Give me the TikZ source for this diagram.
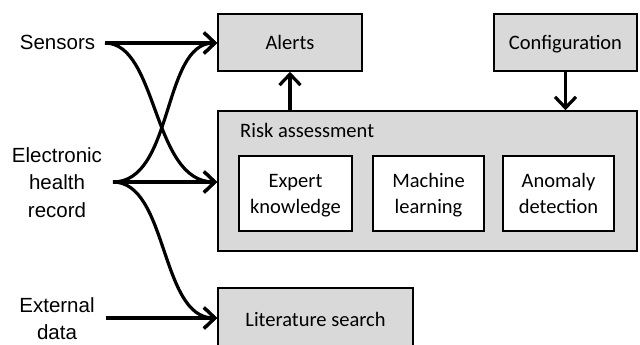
\documentclass[tikz,border=0pt]{standalone}
\usepackage{fontspec}
\setmainfont{Carlito}
\newfontfamily\arialf{Liberation Sans}
\usetikzlibrary{arrows.meta}
\definecolor{boxgray}{HTML}{D9D9D9}
\newcommand{\topr}[1]{\rule{0pt}{#1pt}}
\newcommand{\botr}[1]{\rule[-#1pt]{0pt}{#1pt}}
\tikzset{
  graybox/.style={draw=black, line width=1.6pt, fill=boxgray, inner sep=0pt, font=\fontsize{20.5}{26}\selectfont, align=center},
  whitebox/.style={draw=black, line width=1.6pt, fill=white, inner sep=0pt, font=\fontsize{20.5}{26}\selectfont, align=center},
  srclabel/.style={font=\arialf\fontsize{20.5}{27.5}\selectfont, align=center, inner sep=0pt},
  flow/.style={line width=3.2pt, -{Straight Barb[length=11pt, width=21pt, line width=3.2pt]}}
}
\begin{document}
\begin{tikzpicture}[x=1pt,y=-1pt]
\clip (0,0) rectangle (640,345);
\fill[white] (0,0) rectangle (640,345);
% boxes
\node[graybox, minimum width=144pt, minimum height=57pt] (alerts) at (290,42.5) {\topr{20}Alerts\botr{5}};
\node[graybox, minimum width=143pt, minimum height=57pt] (config) at (565.5,42.5) {\topr{20}Configuration\botr{5}};
\node[graybox, minimum width=419pt, minimum height=140pt] (risk) at (427.5,181) {};
\node[font=\fontsize{20.5}{26}\selectfont, anchor=base west, inner sep=0pt] (risklbl) at (240,137) {Risk assessment};
\node[whitebox, minimum width=113pt, minimum height=75pt] (expert) at (295.5,193.5) {\topr{20}Expert\\knowledge\botr{6}};
\node[whitebox, minimum width=111pt, minimum height=75pt] (ml) at (428.5,193.5) {\topr{20}Machine\\learning\botr{6}};
\node[whitebox, minimum width=111pt, minimum height=75pt] (anom) at (558.5,193.5) {\topr{20}Anomaly\\detection\botr{6}};
\node[graybox, minimum width=195pt, minimum height=62pt] (lit) at (315.5,319) {\topr{19}Literature search\botr{5}};
% sources
\node[srclabel] (sens) at (57.5,44) {\topr{16}Sensors\botr{4}};
\node[srclabel] (ehr) at (57,183.5) {\topr{16}Electronic\\health\\record\botr{4}};
\node[srclabel] (ext) at (57,320) {\topr{16}External\\data\botr{4}};
\coordinate (s0) at (105,43);
\coordinate (e0) at (113,182);
\coordinate (x0) at (106,318);
% arrows
\draw[flow] (s0) -- (alerts.west |- s0);
\draw[flow] (s0) .. controls (158,43) and (152,182) .. (risk.west |- e0);
\draw[flow] (e0) -- (risk.west |- e0);
\draw[flow] (e0) .. controls (174,182) and (162,43) .. (alerts.west |- s0);
\draw[flow] (e0) .. controls (168,182) and (160,318) .. (lit.west |- x0);
\draw[flow] (x0) -- (lit.west |- x0);
\draw[flow] (risk.north -| alerts.south) -- (alerts.south);
\draw[flow] (config.south) -- (risk.north -| config.south);
\end{tikzpicture}
\end{document}
